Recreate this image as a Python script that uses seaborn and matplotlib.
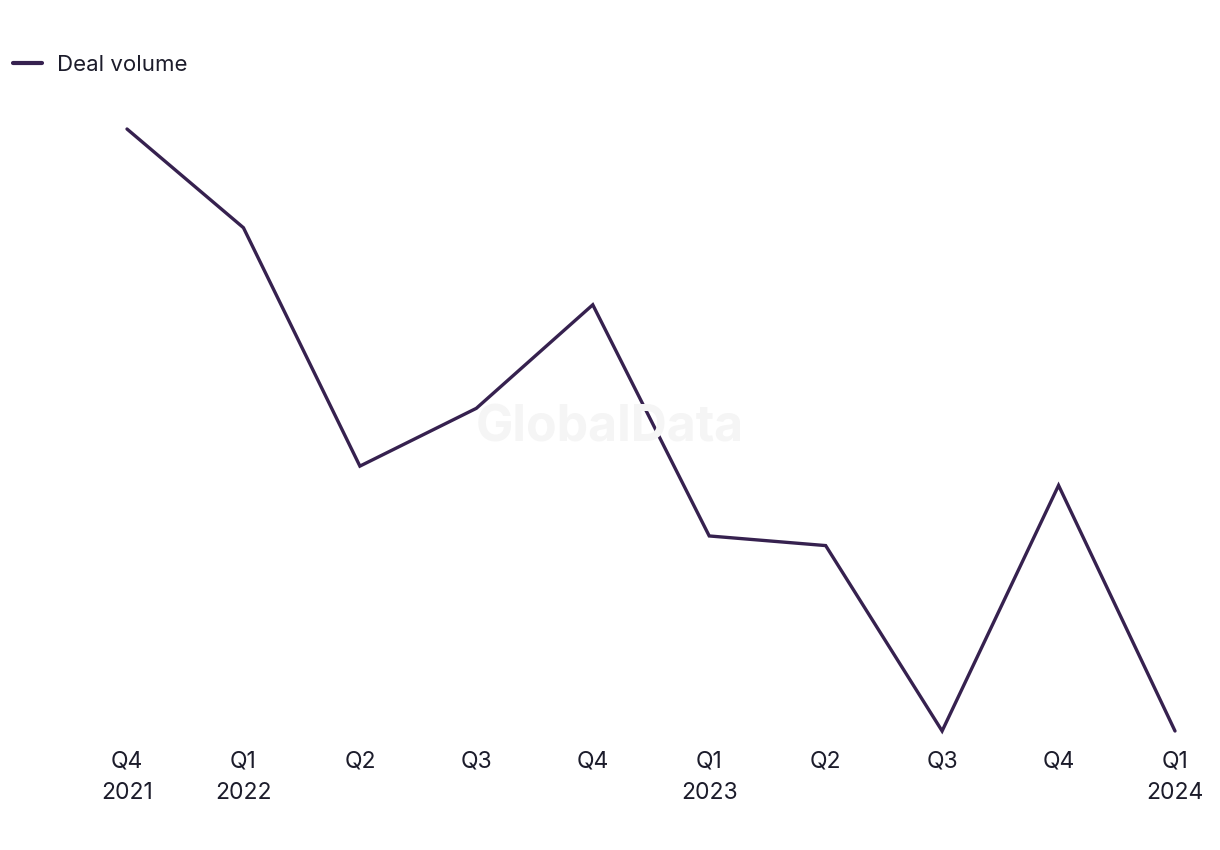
import matplotlib
matplotlib.use("Agg")
import matplotlib.pyplot as plt
import seaborn as sns
import pandas as pd

quarters = ["Q4\n2021", "Q1\n2022", "Q2", "Q3", "Q4", "Q1\n2023", "Q2", "Q3", "Q4", "Q1\n2024"]
deal_volume = [93, 84.8, 65, 69.8, 78.4, 59.2, 58.4, 43, 63.4, 43]
series_name = "Deal volume"

sns.set_theme(style="white")
plt.rcParams["font.family"] = ["Inter", "DejaVu Sans"]

line_color = "#36214F"
text_color = "#1c1c2b"

fig = plt.figure(figsize=(12.2, 8.5), dpi=100)
ax = fig.add_axes([127/1220, 1 - 731/850, (1175 - 127)/1220, (731 - 129)/850])

df = pd.DataFrame({"idx": range(len(quarters)), "value": deal_volume})
sns.lineplot(data=df, x="idx", y="value", ax=ax, color=line_color, linewidth=2.4,
             label=series_name, legend=False, sort=False)
for l in ax.lines:
    l.set_clip_on(False)
    l.set_solid_joinstyle("miter")

ax.set_xlim(0, len(quarters) - 1)
ax.set_ylim(min(deal_volume), max(deal_volume))
ax.set_xticks(range(len(quarters)))
ax.set_xticklabels(quarters, fontsize=16.5, color=text_color, va="top", linespacing=1.55)
ax.tick_params(axis="x", length=0, pad=14)
ax.set_yticks([])
ax.set_xlabel("")
ax.set_ylabel("")
for s in ax.spines.values():
    s.set_visible(False)
ax.set_facecolor("none")

fig.text(610/1220, 1 - 428/850, "GlobalData", fontsize=36, fontweight="bold",
         color="#f5f5f5", ha="center", va="center", zorder=0)

handles, labels = ax.get_legend_handles_labels()
leg = fig.legend(handles, labels, loc="upper left", bbox_to_anchor=(6/1220, 1 - 48/850),
                 frameon=False, fontsize=16, handlelength=1.3, handletextpad=0.7,
                 borderaxespad=0, borderpad=0.3)
for t in leg.get_texts():
    t.set_color(text_color)
for h in leg.get_lines():
    h.set_linewidth(3)
    h.set_solid_capstyle("round")

fig.savefig("out.png", dpi=100, facecolor="white")
